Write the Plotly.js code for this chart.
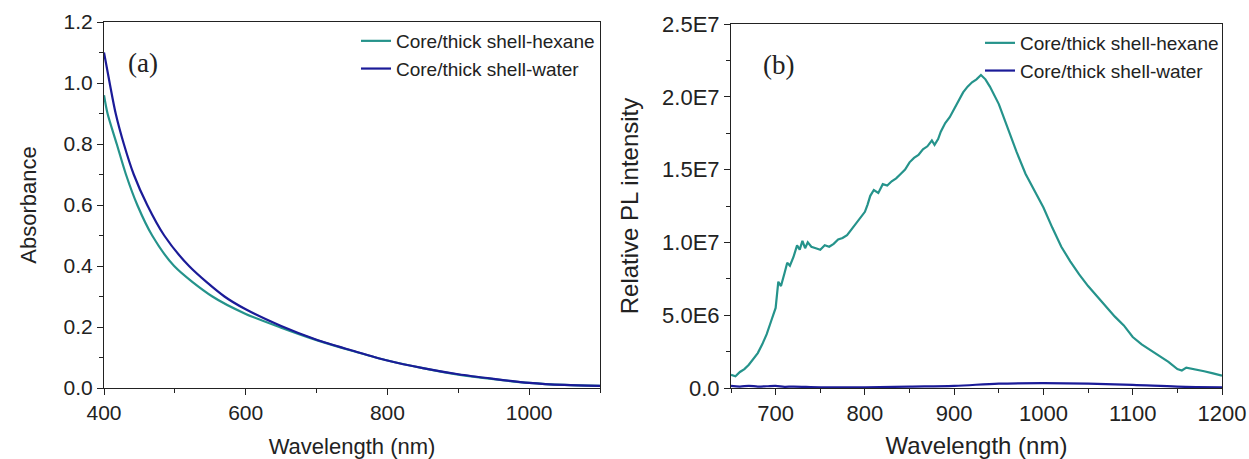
<!DOCTYPE html>
<html>
<head>
<meta charset="utf-8">
<script src="https://cdn.plot.ly/plotly-3.0.1.min.js"></script>
<style>html,body{margin:0;padding:0;background:#fff;}#chart{width:1249px;height:459px;}</style>
</head>
<body>
<div id="chart"></div>
<script>
// ---- Panel (a): absorbance ----
const absWlHexane = [400,405,418,431,447,468,499,553,600,650,700,750,800,850,900,950,1000,1050,1100];
const absHexane   = [0.96,0.90,0.80,0.70,0.60,0.50,0.40,0.30,0.243,0.198,0.157,0.122,0.09,0.065,0.044,0.029,0.017,0.010,0.007];
const absWlWater  = [400,408,416.5,428,442,461,485,520,570,600,650,700,750,800,850,900,950,1000,1050,1100];
const absWater    = [1.10,1.00,0.90,0.80,0.70,0.60,0.50,0.40,0.30,0.258,0.203,0.158,0.123,0.09,0.065,0.045,0.030,0.017,0.010,0.007];

// ---- Panel (b): PL intensity ----
const plWlHexane = [650,655,660,665,670,675,680,685,690,695,700,703,706,710,713,716,720,724,727,730,733,736,740,745,750,755,760,765,770,775,780,785,790,795,800,803,806,810,815,820,825,830,835,840,845,850,855,860,865,870,875,878,882,885,890,895,900,905,910,915,920,925,930,935,940,950,960,970,980,990,1000,1010,1020,1030,1040,1050,1060,1070,1080,1090,1100,1110,1120,1130,1140,1150,1155,1160,1170,1180,1190,1200];
const plHexane   = [0.9e6,0.8e6,1.1e6,1.3e6,1.6e6,2.0e6,2.4e6,3.0e6,3.7e6,4.6e6,5.5e6,7.3e6,7.0e6,7.9e6,8.6e6,8.4e6,9.0e6,9.8e6,9.5e6,10.1e6,9.6e6,10.0e6,9.7e6,9.6e6,9.5e6,9.8e6,9.7e6,9.9e6,10.2e6,10.3e6,10.5e6,10.9e6,11.3e6,11.7e6,12.1e6,12.6e6,13.2e6,13.6e6,13.4e6,14.0e6,13.9e6,14.2e6,14.4e6,14.7e6,15.0e6,15.5e6,15.8e6,16.0e6,16.4e6,16.6e6,17.0e6,16.7e6,17.1e6,17.6e6,18.2e6,18.6e6,19.2e6,19.8e6,20.3e6,20.7e6,21.0e6,21.2e6,21.5e6,21.2e6,20.7e6,19.5e6,17.8e6,16.2e6,14.7e6,13.5e6,12.4e6,11.0e6,9.7e6,8.7e6,7.8e6,7.0e6,6.3e6,5.6e6,4.9e6,4.3e6,3.5e6,3.0e6,2.6e6,2.2e6,1.8e6,1.3e6,1.2e6,1.4e6,1.3e6,1.15e6,1.0e6,0.85e6];
const plWlWater  = [650,660,670,680,690,700,710,720,750,800,850,900,950,1000,1050,1100,1150,1200];
const plWater    = [0.15e6,0.1e6,0.15e6,0.1e6,0.12e6,0.15e6,0.08e6,0.1e6,0.05e6,0.05e6,0.1e6,0.15e6,0.3e6,0.33e6,0.3e6,0.22e6,0.1e6,0.05e6];

const seriesNames = ['Core/thick shell-hexane','Core/thick shell-water'];
const plTickVals  = [0, 5e6, 1e7, 1.5e7, 2e7, 2.5e7];
const plTickText  = ['0.0','5.0E6','1.0E7','1.5E7','2.0E7','2.5E7'];
const absTickVals = [0,0.2,0.4,0.6,0.8,1.0,1.2];
const absTickText = ['0.0','0.2','0.4','0.6','0.8','1.0','1.2'];

const teal = '#25938b', navy = '#1b1b98';
const FONT = 'Arial, "Liberation Sans", sans-serif';
const SERIF = '"Times New Roman", "Liberation Serif", serif';

const traces = [
  {x: absWlHexane, y: absHexane, name: seriesNames[0], type:'scatter', mode:'lines',
   line:{color:teal, width:2.2, shape:'spline', smoothing:0.8}, xaxis:'x', yaxis:'y', legend:'legend'},
  {x: absWlWater, y: absWater, name: seriesNames[1], type:'scatter', mode:'lines',
   line:{color:navy, width:2.2, shape:'spline', smoothing:0.8}, xaxis:'x', yaxis:'y', legend:'legend'},
  {x: plWlHexane, y: plHexane, name: seriesNames[0], type:'scatter', mode:'lines',
   line:{color:teal, width:2.2}, xaxis:'x2', yaxis:'y2', legend:'legend2'},
  {x: plWlWater, y: plWater, name: seriesNames[1], type:'scatter', mode:'lines',
   line:{color:navy, width:2.2, shape:'spline'}, xaxis:'x2', yaxis:'y2', legend:'legend2'}
];

function minorOf(dtick, tick0){
  return {ticks:'outside', ticklen:4, tickwidth:1, tickcolor:'#222', dtick:dtick, tick0:tick0, showgrid:false};
}
function axisCommon(extra, tsize){
  return Object.assign({
    showline:true, linecolor:'#222', linewidth:1, mirror:true,
    ticks:'outside', ticklen:6, tickwidth:1, tickcolor:'#222',
    showgrid:false, zeroline:false, automargin:false,
    tickfont:{family:FONT, size:tsize, color:'#222'}
  }, extra);
}

const layout = {
  width:1249, height:459,
  margin:{l:0, r:0, t:0, b:0},
  paper_bgcolor:'#fff', plot_bgcolor:'#fff',
  showlegend:true,
  font:{family:FONT, color:'#222'},
  xaxis: axisCommon({domain:[104/1249, 600/1249], anchor:'y', range:[400,1100],
    tickvals:[400,600,800,1000], minor:minorOf(100,400),
    title:{text:'Wavelength (nm)', font:{family:FONT, size:22, color:'#222'}, standoff:21}}, 21),
  yaxis: axisCommon({domain:[1-388/459, 1-22/459], anchor:'x', range:[0,1.2],
    tickvals:absTickVals, ticktext:absTickText, minor:minorOf(0.1,0),
    title:{text:'Absorbance', font:{family:FONT, size:22, color:'#222'}, standoff:20}}, 21),
  xaxis2: axisCommon({domain:[731/1249, 1222/1249], anchor:'y2', range:[650,1200],
    tickvals:[700,800,900,1000,1100,1200], minor:minorOf(50,650),
    title:{text:'Wavelength (nm)', font:{family:FONT, size:24, color:'#222'}, standoff:18}}, 22),
  yaxis2: axisCommon({domain:[1-388/459, 1-24/459], anchor:'x2', range:[0,2.5e7],
    tickvals:plTickVals, ticktext:plTickText, minor:minorOf(2.5e6,0),
    title:{text:'Relative PL intensity', font:{family:FONT, size:24, color:'#222'}, standoff:16}}, 22),
  legend: {x:600/1249, xanchor:'right', y:1-22/459, yanchor:'top', bgcolor:'rgba(0,0,0,0)',
    font:{family:FONT, size:19, color:'#222'}, tracegroupgap:0, itemwidth:30},
  legend2: {x:1224/1249, xanchor:'right', y:1-24/459, yanchor:'top', bgcolor:'rgba(0,0,0,0)',
    font:{family:FONT, size:19, color:'#222'}, tracegroupgap:0, itemwidth:30},
  annotations:[
    {text:'(a)', xref:'paper', yref:'paper', x:143/1249, y:1-63/459, xanchor:'center', yanchor:'middle', showarrow:false,
     font:{family:SERIF, size:27, color:'#222'}},
    {text:'(b)', xref:'paper', yref:'paper', x:778/1249, y:1-65/459, xanchor:'center', yanchor:'middle', showarrow:false,
     font:{family:SERIF, size:27, color:'#222'}}
  ]
};

Plotly.newPlot('chart', traces, layout, {staticPlot:true, displayModeBar:false});
</script>
</body>
</html>
